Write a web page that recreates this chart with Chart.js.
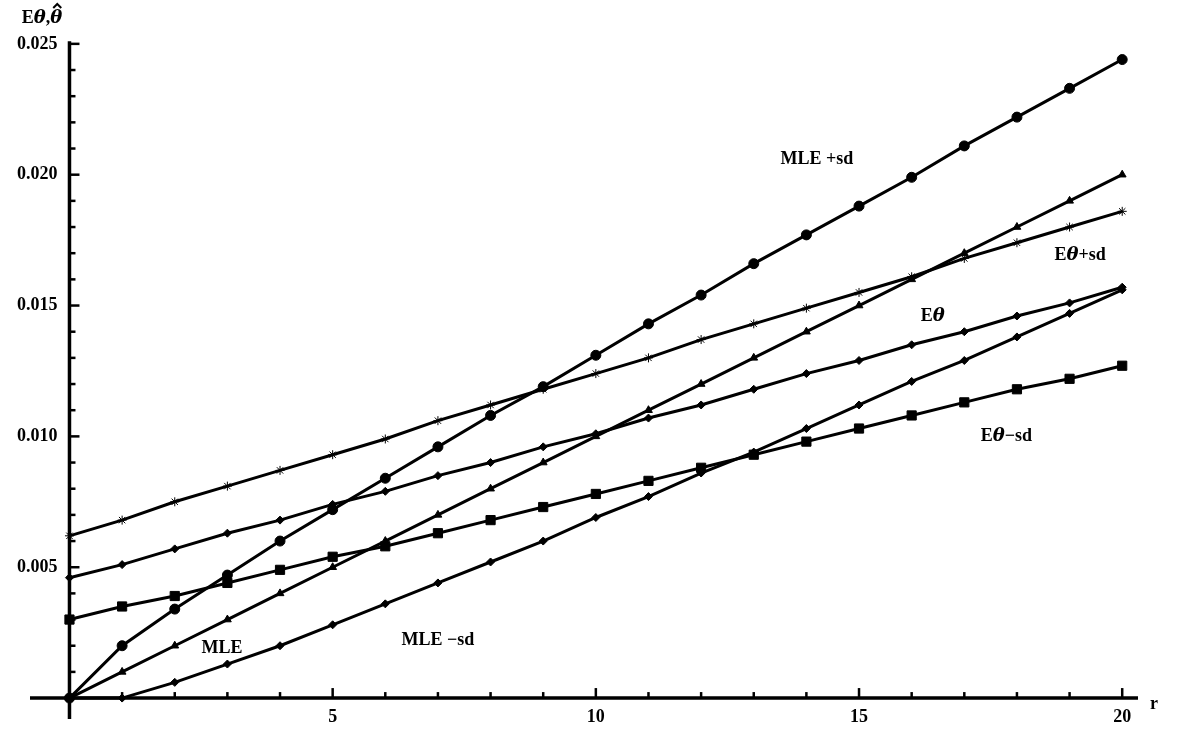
<!DOCTYPE html>
<html><head><meta charset="utf-8">
<script src="https://cdn.jsdelivr.net/npm/chart.js@4"></script>
<style>body{margin:0;background:#fff}#wrap{width:1188px;height:745px}</style>
</head><body><div id="wrap"><canvas id="c"></canvas></div>
<script>
const r = [0,1,2,3,4,5,6,7,8,9,10,11,12,13,14,15,16,17,18,19,20];
const mle = [0,0.001,0.002,0.003,0.004,0.005,0.006,0.007,0.008,0.009,0.010,0.011,0.012,0.013,0.014,0.015,0.016,0.017,0.018,0.019,0.020];
const mlePlus = [0,0.0020,0.0034,0.0047,0.0060,0.0072,0.0084,0.0096,0.0108,0.0119,0.0131,0.0143,0.0154,0.0166,0.0177,0.0188,0.0199,0.0211,0.0222,0.0233,0.0244];
const mleMinus = [0,0,0.0006,0.0013,0.0020,0.0028,0.0036,0.0044,0.0052,0.0060,0.0069,0.0077,0.0086,0.0094,0.0103,0.0112,0.0121,0.0129,0.0138,0.0147,0.0156];
const eTheta = [0.0046,0.0051,0.0057,0.0063,0.0068,0.0074,0.0079,0.0085,0.0090,0.0096,0.0101,0.0107,0.0112,0.0118,0.0124,0.0129,0.0135,0.0140,0.0146,0.0151,0.0157];
const ePlus = [0.0062,0.0068,0.0075,0.0081,0.0087,0.0093,0.0099,0.0106,0.0112,0.0118,0.0124,0.0130,0.0137,0.0143,0.0149,0.0155,0.0161,0.0168,0.0174,0.0180,0.0186];
const eMinus = [0.0030,0.0035,0.0039,0.0044,0.0049,0.0054,0.0058,0.0063,0.0068,0.0073,0.0078,0.0083,0.0088,0.0093,0.0098,0.0103,0.0108,0.0113,0.0118,0.0122,0.0127];
const xTicks = [5,10,15,20];
const yTicks = [0.005,0.010,0.015,0.020,0.025];
// labels: pieces of [text, italic]
const notes = [
  {p:[['MLE +sd',0]], x:14.2, y:0.0206},
  {p:[['E',0],['θ',1],['+sd',0]], x:19.2, y:0.0169},
  {p:[['E',0],['θ',1]], x:16.4, y:0.0146},
  {p:[['E',0],['θ',1],['−sd',0]], x:17.8, y:0.0100},
  {p:[['MLE',0]], x:2.9, y:0.0019},
  {p:[['MLE −sd',0]], x:7.0, y:0.0022}
];

const FN = 'bold 18px "Liberation Serif"', FI = 'bold italic 18px "DejaVu Serif"';
function pieces(c, parts, cx, cy) {
  let w = 0;
  parts.forEach(([t,it]) => { c.font = it ? FI : FN; w += c.measureText(t).width; });
  let x = cx - w/2;
  c.textAlign = 'left';
  const starts = [];
  parts.forEach(([t,it]) => { c.font = it ? FI : FN; starts.push([x, c.measureText(t).width]); c.fillText(t, x, cy); x += c.measureText(t).width; });
  return starts;
}

function ds(data, style, size) {
  return {data: r.map((v,i)=>({x:v,y:data[i]})), borderColor:'#000', backgroundColor:'#000',
    borderWidth:3, pointStyle:style, pointRadius:size, pointBorderWidth:1, showLine:true, tension:0};
}

const axes = {
  id:'axes',
  afterDraw(chart) {
    const c = chart.ctx, xs = chart.scales.x, ys = chart.scales.y;
    const x0 = xs.getPixelForValue(0), y0 = ys.getPixelForValue(0);
    c.save();
    c.strokeStyle = '#000'; c.fillStyle = '#000'; c.lineWidth = 3.5;
    c.beginPath();
    c.moveTo(xs.left, y0); c.lineTo(xs.right, y0);
    c.moveTo(x0, ys.bottom); c.lineTo(x0, ys.getPixelForValue(0.0251));
    c.stroke();
    c.lineWidth = 2.5;
    for (let k = 1; k <= 25; k++) {
      const p = ys.getPixelForValue(k/1000), len = k % 5 === 0 ? 10 : 6;
      c.beginPath(); c.moveTo(x0, p); c.lineTo(x0 + len, p); c.stroke();
    }
    for (let k = 1; k <= 20; k++) {
      const p = xs.getPixelForValue(k), len = k % 5 === 0 ? 10 : 6;
      c.beginPath(); c.moveTo(p, y0); c.lineTo(p, y0 - len); c.stroke();
    }
    c.font = FN;
    c.textAlign = 'right'; c.textBaseline = 'middle';
    yTicks.forEach(v => c.fillText(v.toFixed(3), x0 - 12, ys.getPixelForValue(v)));
    c.textAlign = 'center'; c.textBaseline = 'top';
    xTicks.forEach(v => c.fillText(String(v), xs.getPixelForValue(v), y0 + 10));
    c.textAlign = 'left'; c.textBaseline = 'middle';
    c.fillText('r', xs.right + 12, y0 + 6);
    const st = pieces(c, [['E',0],['θ',1],[',',0],['θ',1]], 42, 18);
    // hat over the second theta
    const hx = st[3][0] + st[3][1] / 2 + 1, hy = 5;
    c.lineWidth = 2;
    c.beginPath(); c.moveTo(hx - 4, hy + 3); c.lineTo(hx, hy - 1); c.lineTo(hx + 4, hy + 3); c.stroke();
    notes.forEach(n => pieces(c, n.p, xs.getPixelForValue(n.x), ys.getPixelForValue(n.y)));
    c.restore();
  }
};

new Chart(document.getElementById('c'), {
  type: 'scatter',
  data: { datasets: [
    ds(mlePlus,'circle',5), ds(mle,'triangle',4.5), ds(ePlus,'star',4.5),
    ds(eTheta,'rectRot',4), ds(mleMinus,'rectRot',4), ds(eMinus,'rect',6.5)
  ]},
  options: {
    responsive:true, maintainAspectRatio:false, animation:false,
    layout:{padding:{left:30,right:50,top:36,bottom:26}},
    plugins:{legend:{display:false}, tooltip:{enabled:false}},
    scales:{
      x:{type:'linear', min:-0.75, max:20.3, display:false},
      y:{type:'linear', min:-0.0008, max:0.0253, display:false}
    }
  },
  plugins:[axes]
});
</script></body></html>
